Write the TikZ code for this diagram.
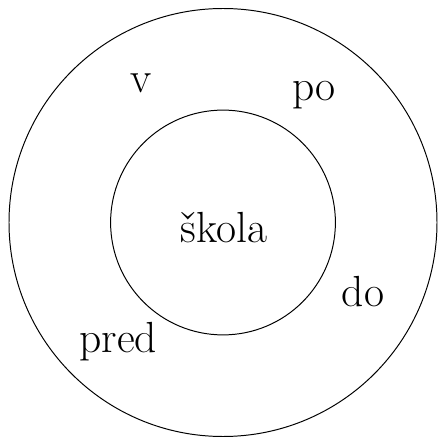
\documentclass[tikz,border=0pt]{standalone}
\usepackage{tikz}
\usetikzlibrary{positioning}

\begin{document}
\begin{tikzpicture}[
            kruh/.style={circle, draw=black, line width=0.7pt, inner sep=0pt},
            slovo/.style={anchor=base, inner sep=0pt, font=\fontsize{31}{36}\selectfont}]

            \useasboundingbox (-5.575,-5.4125) rectangle (5.4,5.5625);

            \node[kruh, minimum size=10.7cm] (vonkajsi) at (0,0) {};
            \node[kruh, minimum size=5.62cm] (vnutorny) at (0,0) {};

            \node[slovo] (skola) at (0.03,-0.49) {škola};
            \node[slovo] (v) at (-2.05,3.26) {v};
            \node[slovo] (po) at (2.28,3.04) {po};
            \node[slovo] (do) at (3.5,-2.11) {do};
            \node[slovo] (pred) at (-2.62,-3.26) {pred};
        \end{tikzpicture}
\end{document}
